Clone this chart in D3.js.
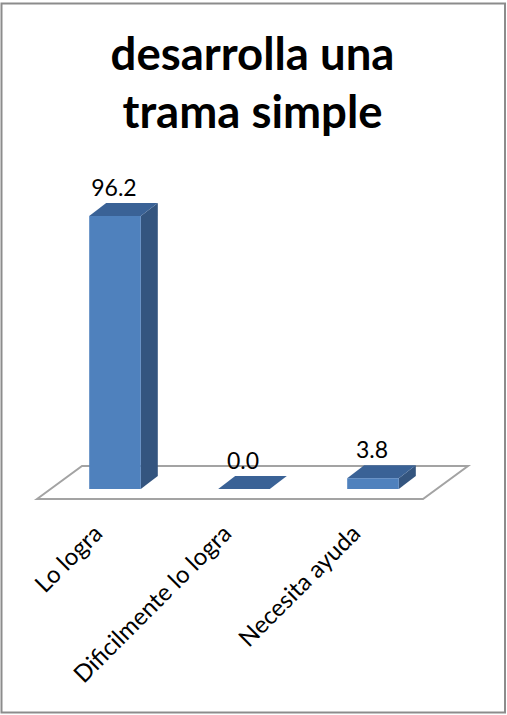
<!DOCTYPE html>
<html>
<head>
<meta charset="utf-8">
<style>
html,body{margin:0;padding:0;background:#fff;overflow:hidden}
svg{display:block}
text{font-family:Lato,"Open Sans",sans-serif;fill:#000}
</style>
<script src="https://cdn.jsdelivr.net/npm/d3@7"></script>
</head>
<body>
<svg id="chart" width="507" height="715"></svg>
<script>
const categories = ["Lo logra", "Dificilmente lo logra", "Necesita ayuda"];
const values = [96.2, 0.0, 3.8];
const titleLines = ["desarrolla una", "trama simple"];

const svg = d3.select("#chart");
const W = 507, H = 715;
const baseY = 489, depthX = 17, depthY = 13;

const x = d3.scaleBand().domain(categories).range([50.5, 437.5]).paddingInner(0.6).paddingOuter(0.3);
const y = d3.scaleLinear().domain([0, 96.2]).range([baseY, 216]);

svg.append("rect").attr("x", 1.5).attr("y", 3.5).attr("width", 503.5).attr("height", 709)
  .attr("fill", "#fff").attr("stroke", "#8c8c8c").attr("stroke-width", 2);

svg.selectAll("text.title").data(titleLines).join("text").attr("class", "title")
  .attr("x", 252.5).attr("y", (d, i) => 70 + i * 58)
  .attr("text-anchor", "middle").attr("font-size", 45.5).attr("font-weight", 700).text(d => d);

// floor
const floorFront = baseY + 10, floorBack = floorFront - 33;
svg.append("polygon")
  .attr("points", [[37, floorFront], [82, floorBack], [468, floorBack], [423, floorFront]].join(" "))
  .attr("fill", "#fff").attr("stroke", "#a3a3a3").attr("stroke-width", 2);

const bars = svg.selectAll("g.bar").data(categories.map((c, i) => ({c, v: values[i]}))).join("g").attr("class", "bar");
const poly = pts => pts.map(p => p.join(",")).join(" ");

bars.append("polygon").attr("fill", "#34557f").attr("points", d => {
  const l = x(d.c) + x.bandwidth(), t = y(d.v);
  return poly([[l, t], [l + depthX, t - depthY], [l + depthX, baseY - depthY], [l, baseY]]);
});
bars.append("polygon").attr("fill", "#3a6296").attr("points", d => {
  const l = x(d.c), r = l + x.bandwidth(), t = y(d.v);
  return poly([[l, t], [l + depthX, t - depthY], [r + depthX, t - depthY], [r, t]]);
});
bars.append("rect").attr("fill", "#4f81bd")
  .attr("x", d => x(d.c)).attr("width", x.bandwidth())
  .attr("y", d => y(d.v)).attr("height", d => baseY - y(d.v));

bars.append("text").attr("text-anchor", "middle").attr("font-size", 23)
  .attr("x", d => x(d.c) + x.bandwidth() / 2 - 1)
  .attr("y", d => y(d.v) - depthY - 7)
  .text(d => d.v.toFixed(1));

svg.selectAll("text.cat").data(categories).join("text").attr("class", "cat")
  .attr("text-anchor", "end").attr("font-size", 24)
  .attr("transform", d => `translate(${x(d) + x.bandwidth() / 2 - 11},535) rotate(-45)`)
  .text(d => d);
</script>
</body>
</html>
